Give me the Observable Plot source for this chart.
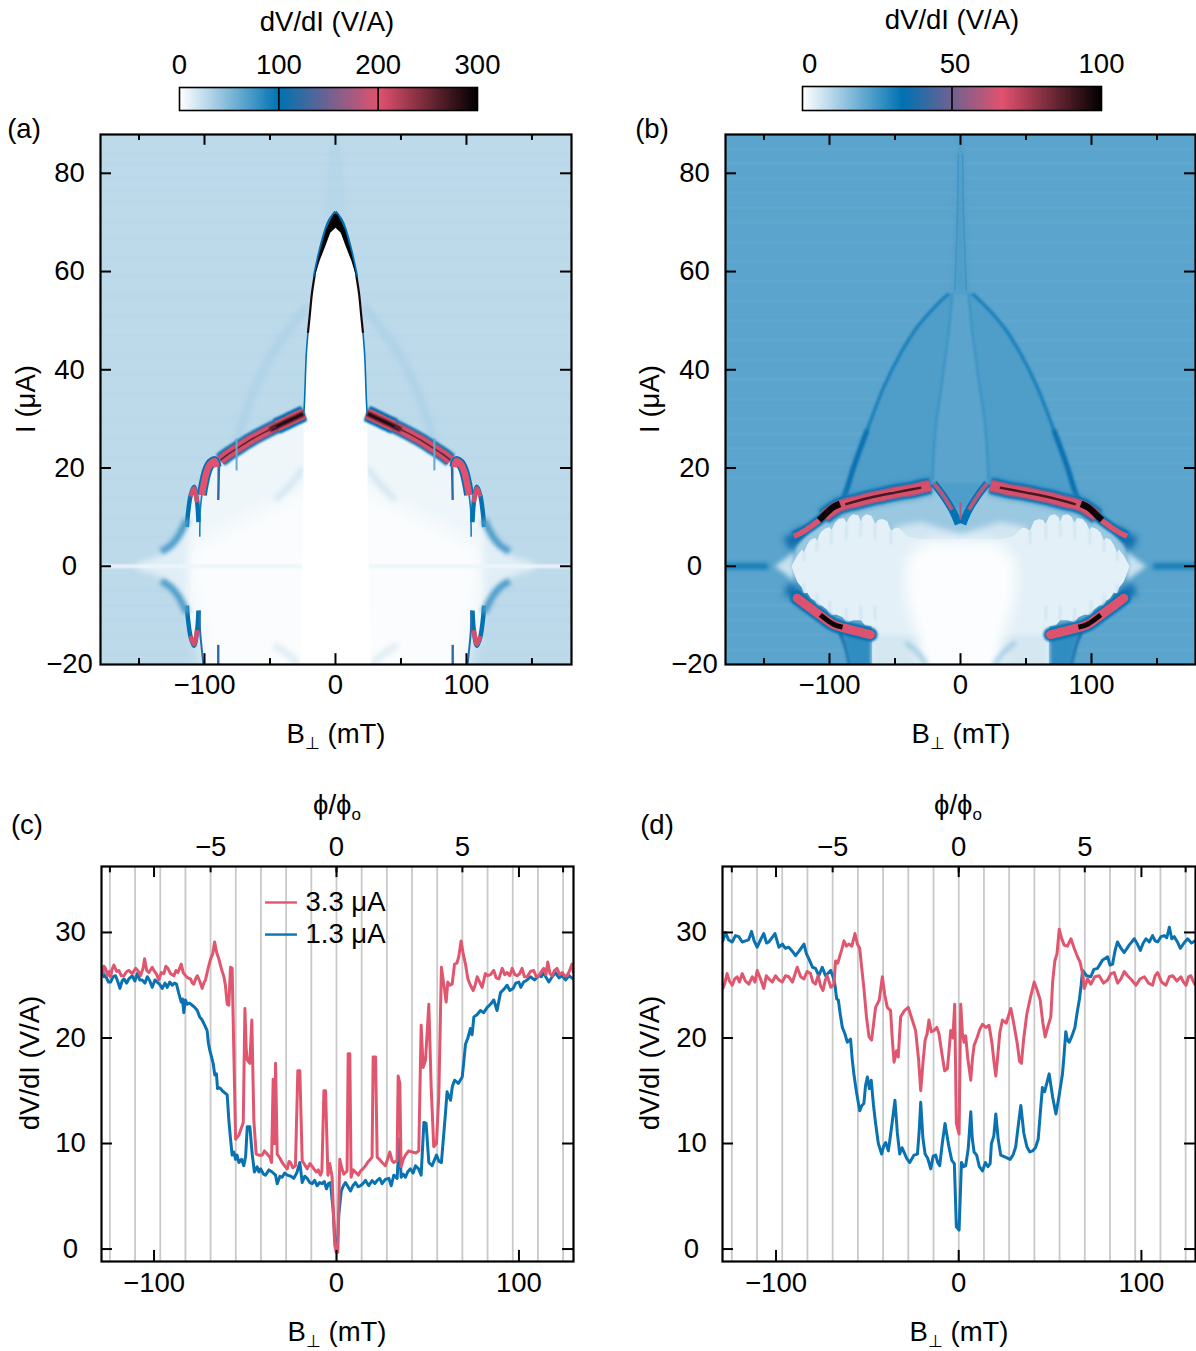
<!DOCTYPE html>
<html><head><meta charset="utf-8">
<script src="https://cdn.jsdelivr.net/npm/d3@7"></script>
<script src="https://cdn.jsdelivr.net/npm/@observablehq/plot@0.6"></script>
<style>
html,body{margin:0;padding:0;background:#fff}
#page{position:relative;width:1196px;height:1351px;overflow:hidden;font-family:"Liberation Sans",Arial,sans-serif;font-size:27.5px;color:#000}
.lab{position:absolute;white-space:nowrap;line-height:1}
.s{font-size:17px;position:relative;top:6px}
.panel{position:absolute}
.panel svg{overflow:visible;max-width:none;background:transparent}
</style></head><body><div id="page"></div>
<script>
// ---------- colour map stops (dV/dI in V/A) ----------
const mapColours = ["#ffffff", "#0072b2", "#e1526f", "#000000"];
const aStops = [0, 100, 200, 300];
const bStops = [0, 33.3, 66.7, 100];
const lineRed = "#e1566f", lineBlue = "#0a72b0";

// ---------- ticks ----------
const currentTicks = [-20, 0, 20, 40, 60, 80];
const fieldMajor = [-100, 0, 100];
const fieldMinor = [-150, -50, 50, 150];
const dvdiTicks = [0, 10, 20, 30];
const fluxLines = [-9,-8,-7,-6,-5,-4,-3,-2,-1,0,1,2,3,4,5,6,7,8,9];
const fluxTicks = [-5, 0, 5];
const mTperFlux = 13.8;

const aBands = [84,82,79,76.5,74,70,67,63,59,55,51,47,43,39,35,30,26,22,18,14,10,6,-5,-8,-11,-14,-18];
const aOutline = [[0,30.5],[24,30.5],[37,28.9],[55,26.6],[75,23.2],[87.5,21],[89.5,15],[91,21],[96,20.5],[100,18],[102.8,12],[104.5,12.5],[108,15.5],[111.5,14],[113.5,10.5],[116,7],[120,4.5],[125,3],[132,1],[140,.3],[140,-.3],[132,-1],[125,-3],[120,-5.5],[116,-8],[113.5,-11],[111,-14.5],[108,-15.5],[105,-13],[103.5,-11],[102.5,-15],[100,-22],[0,-22]];
const aCore = [[0,18],[24,16],[60,11],[90,7],[104,5],[112,4],[115,0],[112,-5],[104,-11],[98,-22],[0,-22]];
const aFade = [[113,8],[125,5],[135,2],[152,.6],[152,-.6],[135,-2],[125,-5],[113,-8]];
const aDome = [[0,69.2],[4,68.4],[7.4,66.5],[12,63],[16.2,58.9],[19.5,52],[22,44.7],[23.6,33.8],[24.3,28],[24.5,15],[25,5],[26,-10],[27,-22],[0,-22]];
const aCap = [[0,71.8],[1.5,71.6],[4.5,70.2],[7.4,68.4],[12,64],[16.2,59],[15.4,59.4],[12,62.3],[8,65],[4,67.9],[0,68.9]];
const aCapGlow = [[0,72.2],[4.5,70.6],[7.4,68.8],[12,64.4],[16.4,59]];
const aDomeMid = [[15.8,59.4],[18,55.5],[19.5,51.5],[21,47.5]];
const aDomeLow = [[21,47.5],[22.3,43],[23.6,33.8],[24.2,31]];
const aFaintArc = [[76,25],[70,30],[62,36],[45,44.7],[30,50],[22,53]];
const aAbovePeak = [[-9,70],[-6,80],[-3,88],[3,88],[6,80],[9,70],[3,72],[-3,72]];
const aInnerArc = [[25,20],[33,17],[46,13.5]];
const aLowerArc = [[28,-20],[36,-18],[47,-16]];
const aRidge1 = [[24.2,31.1],[30,30.4],[36.9,29.5],[45,28.5],[54.7,27.2],[65,25.7],[75,24],[82,22.8],[87.8,21.6]];
const aRidgeNear = [[24.2,31.1],[30,30.4],[36.9,29.5],[45,28.5]];
const aRidgeDark = [[24.2,31.1],[36.9,29.5],[50,27.8]];
const aSlit75 = [[75.5,26],[75.5,19.5]];
const aSlit89 = [[88.9,21.6],[89.5,13.5]];
const aSlit89Low = [[89.5,-16],[89.5,-22]];
const aRidge2 = [[90.8,20.2],[92.3,21.4],[95,21],[98,19.5],[100.5,16.8],[102,14.5]];
const aRidge2Low = [[102,14.5],[103.2,11.5],[103.6,6]];
const aLobe = [[104.6,9],[105.6,13],[108,16.2],[110.5,14.5],[112.5,11],[113.5,8]];
const aLobeTop = [[105.6,13],[108,15.9],[110.5,14.2]];
const aTail = [[113.5,9.5],[117,7.5],[121,5.7],[126,4.2],[133,3]];
const aLine104Low = [[103.6,-9],[103.4,-13],[102.4,-16],[100,-22]];

const bBands = [85,82,79,76,73,70,66,62,58,54,50,46,42,38,34,30,27,24,21,18,-5,-8,-11,-14,-17];
const bTent = [[0,56],[9,55.5],[15.3,54.2],[33,48.7],[45.8,43.3],[58.5,36.5],[71.2,27.8],[81.4,20.3],[87.8,14.9],[90,12],[0,12]];
const bTentEdge = [[9,55.5],[15.3,54],[33,48.7],[45.8,43.3],[58.5,36.5],[71.2,27.8],[81.4,20.3],[87.8,14.9],[92,12.3]];
const bTentEdgeLow = [[71.2,27.8],[81.4,20.3],[87.8,14.9],[92,12.3]];
const bCentre = [[22,17],[19,28.4],[14,37.9],[6.4,55.5],[0,55.5]];
const bCentreEdge = [[21.6,17.6],[19,28.4],[14,37.9],[9,48],[6.4,55.5]];
const bSpike = [[5.5,56],[3,72],[1.2,88],[-1.2,88],[-3,72],[-5.5,56]];
const bSpikeEdge = [[4.5,56],[2.5,70],[1.6,84]];
const bBand = [[0,8.5],[6,11],[13,14],[21,16],[38,15],[58.5,14],[79,12.5],[93,11.5],[104,9.5],[116,7],[125,4],[129,0],[100,0],[60,4],[0,4]];
const bMidFade = [[0,6.5],[30,9],[50,8],[50,4],[0,3]];
const bOutline = [[0,5.5],[30,5.5],[40,6],[47,7.8],[50,7.8],[53,7.2],[56,9.2],[60,9.6],[63,9.4],[65,8.6],[68,10.3],[72,10.6],[75,10],[76,9],[78,10.4],[82,10.6],[85,10],[87,8.8],[89,9.8],[93,9.6],[96,8.8],[98.5,7.4],[100,8],[104,7.6],[107,6.8],[109.5,5.2],[111,5.8],[114.5,5.4],[117,4.4],[119.5,2.8],[121,3.4],[124.5,2.2],[127,1],[129,0],[127,-1.5],[124.5,-3.2],[121,-4.4],[119.5,-5.5],[117,-5.4],[114,-6.6],[111,-7],[109.5,-8],[106,-8],[102,-8.8],[99.5,-10],[95,-9.8],[90,-10.4],[87,-11.5],[82,-11],[76,-11],[73,-12],[68,-12.2],[67.4,-14],[67.4,-22],[0,-22]];
const bHalo = [[127,3],[134,1.5],[142,0],[134,-1.5],[127,-3]];
const bWhite = [[0,5],[24,5],[32,4],[42,1],[42,-6],[33,-14],[27,-22],[0,-22]];
const bLowFill = [[67.4,-14],[67.4,-22],[26,-22],[30,-14]];
const bLowArc = [[26,-20],[33,-17.5],[42,-15.5]];
const bLowDark = [[68,-14],[90,-13],[83,-22],[68,-22]];
const bLobeNotches = [[53,7.2,53.3,4.5],[65,8.6,65.3,5.5],[76,9,76.3,6],[87,8.8,87.3,5.5],[98.5,7.4,98.8,4.5],[109.5,5.2,109.8,3],[119.5,2.8,119.8,1],[65,-11,65.3,-8],[76,-11,76.3,-8],[87,-11.5,87.3,-8.5],[99.5,-10,99.8,-7],[109.5,-8,109.8,-5.5],[119.5,-5.5,119.8,-3.5]];
const bRidge = [[23,16.4],[30,16],[38.2,15.5],[48,15.1],[58.5,14.5],[69,13.9],[78.9,13.2],[86,12.8],[92.9,12.2],[99,11.2],[104.3,10.1]];
const bRidgeTip = [[104.3,10.1],[110,8.9],[115.8,7.8],[121,6.9],[127.2,6.1]];
const bRidgeHot = [[92,12.7],[98,11.9],[104,10.4],[108,9.4]];
const bRidgeDark = [[30,16],[50,15],[70,13.9],[88,12.6]];
const bVee = [[20.4,16.9],[12.7,14.2],[6.4,11.5],[1.6,8.6]];
const bSlit = [[0,13],[0,9.5]];
const bTipGlow = [[118,7],[126,5.5],[133,4.5]];
const bZeroDark = [[147,0],[180,0]];
const bLowRidge = [[68.7,-13.9],[84,-12.9],[96.7,-11.9],[105,-10.4],[113.2,-8.8],[124.7,-6.5]];
const bLowHot = [[90,-12.4],[97,-11.8],[107,-9.9]];
const bLowTail = [[92.9,-13],[88,-16],[82.7,-22]];

// ---------- panel (c): traces, [B mT, dV/dI V/A] ----------
const cRed = [[-128.8,26.3],[-128.4,26.1],[-127.5,26.8],[-126.6,26.6],[-125.5,25.9],[-124.6,26.3],[-123.8,25.8],[-123,26.5],[-122,26.9],[-120.5,26.3],[-119.3,26.4],[-118,25.9],[-116.5,25.9],[-115,26.3],[-113.8,26.4],[-112,26.1],[-110.1,26.6],[-108.5,26.3],[-107.4,25.9],[-106,26.6],[-105.2,27.5],[-104,26.4],[-102.8,26.2],[-101,26.7],[-100.1,26.4],[-98.5,26],[-97.4,25.5],[-96,26.2],[-94.6,26.1],[-93.5,26.8],[-92.4,26.6],[-91,26.1],[-89.1,25.9],[-88,26.4],[-86.9,26.2],[-86,26.6],[-85.1,27],[-84,26.2],[-82.7,25.9],[-81.5,25.7],[-80,25.6],[-79,25.2],[-78.2,25.1],[-77,25.7],[-76.3,25.9],[-75,25.4],[-73.6,24.7],[-72.5,25.3],[-71.8,25.5],[-70.5,26.5],[-69,27.5],[-67.8,28],[-66.8,29.1],[-65.7,28.1],[-64.5,27.5],[-63,26.5],[-61.7,25.8],[-60.9,25],[-59.9,23.2],[-59,23.1],[-58.1,26.7],[-57.2,26.6],[-55.3,10.4],[-53.5,10.8],[-51.1,12],[-50.2,22.8],[-49.5,19],[-48.9,17.9],[-47.5,17.6],[-46.4,21.7],[-45.3,12.2],[-44,9],[-42.5,8.9],[-40.7,8.9],[-39.5,9.3],[-38,9],[-36.5,8.7],[-35.6,8.2],[-34.7,16.1],[-34,10],[-33.4,17.6],[-32.5,9],[-31,8.6],[-29.8,8.2],[-28.5,7.9],[-27,7.6],[-26,8.3],[-25.2,8.2],[-24,7.7],[-22.5,7.9],[-21.2,16.9],[-20.1,16.9],[-18.8,8.4],[-17.5,8],[-16.1,7.6],[-14.5,8.1],[-12.4,7.6],[-11,7.3],[-10,7.5],[-8.8,7],[-8,7.4],[-6.9,15],[-6,15],[-4.7,7],[-3.7,8.1],[-2.4,6.8],[-1.1,.8],[-.2,-.3],[.7,-.3],[1.8,8.5],[3,7.6],[4,7.1],[5.8,7.4],[6.4,18.5],[7.3,18.5],[8,6.8],[9.2,7.5],[10.4,7.3],[12,7],[13.2,7.4],[14.5,7.6],[15.9,7.9],[17.5,8.3],[19.5,8.7],[20.1,18.2],[21.4,18.2],[22.3,8.7],[23.5,8.5],[25,8.2],[26.8,7.9],[28,8.5],[29.2,9.2],[30.4,8.4],[31.4,8.2],[33.2,8.4],[33.8,16.4],[34.7,15.7],[35.4,7.8],[36.6,8.5],[37.8,8.9],[39.5,9.3],[41.5,9.2],[43.5,9.1],[45.1,9.3],[46.4,21.2],[47.5,17.2],[48.8,17.9],[50.6,23.2],[51.9,15.3],[53.3,9.7],[54.8,10],[56.1,14.7],[57.5,26.7],[58.8,25.1],[60.1,23.4],[61,25.3],[62.2,25],[63.4,25.1],[64.7,27],[66,27.1],[67,27.7],[68.3,29.2],[69.5,27.9],[70.7,27],[72,25.6],[73.4,25],[74.9,24.5],[76,25],[77.1,25.8],[78.5,25.3],[79.8,24.8],[81.6,26.1],[83,25.9],[84.4,26],[86.2,26.4],[87.5,25.7],[89,25.6],[90.8,26.6],[92.2,26],[93.5,26.2],[95,25.9],[96.3,26.6],[97.7,26],[99,25.9],[100.4,26.1],[101.7,26.6],[103,25.8],[104.5,25.8],[106.3,26.3],[108.1,26.4],[109.5,25.8],[110.9,25.9],[112.3,26.3],[113.6,26.6],[114.8,26],[115.8,27.2],[117,26.1],[118.2,25.9],[119.5,26.4],[120.9,26.6],[122.3,26],[123.7,26.2],[125,25.9],[126.4,25.9],[127.8,26.4],[129.1,27],[129.9,26.2]];
const cBlue = [[-128.8,26.4],[-128.4,26.7],[-127.5,25.8],[-126.6,25.9],[-125,25.3],[-123.8,25.3],[-122.5,25.8],[-121.1,25.9],[-119.8,25.3],[-118.7,24.7],[-117.5,25.4],[-116.5,25.6],[-115,25.2],[-113.8,25.6],[-112,25.9],[-110.5,25.4],[-109.2,26.1],[-107.8,25.5],[-106.5,25.5],[-105,25.2],[-103.7,25.8],[-102.3,25.4],[-101,24.8],[-99.5,25.5],[-98.3,25.3],[-97,25.1],[-95.5,24.7],[-94,25.2],[-92.8,24.8],[-91.4,25.3],[-90,25],[-88.8,25.2],[-87.7,25.1],[-86.4,24.2],[-85.1,23.4],[-84.4,23.7],[-83.7,22.4],[-82.8,23.6],[-81.8,23.2],[-80.5,23.3],[-79.1,23.1],[-77.7,22.9],[-76.3,22.6],[-75,22],[-73.6,21.7],[-72.2,21.2],[-70.9,20.7],[-70.2,19.5],[-69.4,18.8],[-68.5,18.2],[-67.6,17.6],[-66.7,16.5],[-65.8,16.6],[-65.2,15.2],[-64.5,15.3],[-63.5,15.2],[-62.6,15],[-61.2,14.8],[-59.9,14.6],[-59,12.2],[-58,10.3],[-57.2,8.9],[-56.3,9.2],[-55.3,8.5],[-54.5,8.9],[-53.5,8.2],[-52,8.5],[-50.8,7.9],[-49.8,8.8],[-48.9,11.6],[-47.5,11.6],[-46.2,9],[-45,7.3],[-43.5,7.8],[-42.5,7.3],[-41.6,7.6],[-40,7.1],[-38.9,7],[-37,7.5],[-35.3,7.3],[-33.4,7],[-32.5,6.2],[-31,6.9],[-29.8,6.8],[-28.4,7.2],[-27,7],[-25,6.9],[-23.4,6.7],[-21.8,7.2],[-20.1,8.2],[-18.8,6.3],[-17.4,6.9],[-16.1,6.7],[-14.7,6.3],[-13.3,6.2],[-12,6.5],[-10.6,6],[-9.2,6.3],[-7.9,6.2],[-6.7,6.4],[-5.5,5.7],[-4.4,6.2],[-3.3,6.3],[-1.8,3.6],[-.7,.2],[.4,-.3],[1.3,3.3],[2.6,5.5],[3.8,6],[4.9,6.3],[6.3,5.9],[7.7,5.5],[9,6],[10.4,6.3],[11.8,5.9],[13.2,6],[14.5,6.2],[15.9,6.5],[17.7,6],[19.5,6.5],[21,6.2],[22.3,6.5],[23.7,6.7],[25,6.2],[26.8,6.6],[28.7,6.7],[30,6],[31.4,7],[33.2,6.7],[34.5,10.4],[35.4,6.8],[36.6,7.1],[37.8,6.8],[39,7.3],[40.5,7.6],[42,7.2],[43.3,7.9],[45,7.6],[46.4,7],[47.9,12],[49.1,11.9],[50.6,8.2],[52.4,7.9],[53.6,8.4],[54.8,8.9],[56.2,8.3],[57.5,8.2],[58.6,10.5],[59.7,12.8],[60.6,14.9],[61.5,14.5],[62.5,14.1],[63.5,15.4],[64.7,16],[66.8,15.7],[68.9,16.3],[69.8,17.8],[70.7,19.4],[72,20],[73.4,20.9],[74.3,20.3],[75.3,22],[77,22.2],[78.9,22.6],[80.7,22.4],[82.6,22.9],[84.4,23.2],[86.2,23.6],[88,22.6],[89.9,24.3],[91.7,24.6],[93.5,25],[95,24.5],[96.8,24.7],[98.3,25.2],[99.9,25.3],[101,24.8],[102.6,25.3],[104.5,25.5],[106.3,25.8],[108.5,25.5],[110.9,25.9],[112.3,25.8],[113.6,26.2],[115,25.7],[116.4,25.3],[118.2,25.8],[120,26.2],[122,25.7],[123.7,25.9],[125.5,25.5],[127.4,25.9],[129.7,25.6]];

// ---------- panel (d): traces ----------
const dRed = [[-129.1,24.7],[-128,25.2],[-126.8,26.1],[-125.5,25.4],[-124,25],[-122.6,25.6],[-121.3,25.8],[-120,25.3],[-118.5,26.1],[-116.8,25.4],[-114.9,25.1],[-113,25.8],[-111.5,25.3],[-110.3,26.4],[-108.5,25.6],[-106.7,24.7],[-105.3,25.9],[-103.9,25.6],[-102,25.3],[-100.3,25.9],[-98.4,25.5],[-96.6,25.3],[-94.8,25.9],[-93,25.8],[-91,25.3],[-88.4,26.7],[-86.5,25.8],[-84.7,25.6],[-83,26.3],[-81.1,26.1],[-79.8,25.3],[-78.4,25.1],[-77,25.9],[-75.5,24.9],[-74.3,24.5],[-73,25.5],[-72,25.9],[-70,24.8],[-68.3,25.1],[-67.4,27.3],[-66.2,27.1],[-65.2,27.7],[-64,28.4],[-62.8,29.2],[-61.5,28.7],[-60.1,28.9],[-58.5,28.7],[-56.8,29.9],[-55.5,28.9],[-54.2,28.5],[-53,26.5],[-51.9,24.7],[-50.5,22],[-49.1,20.1],[-47.7,19.8],[-46.5,21.5],[-45.5,22.9],[-43.5,23.6],[-41.8,25.8],[-40.5,24.1],[-39.1,22.9],[-37.3,22.6],[-36.4,20],[-35.4,17.7],[-34,18.8],[-33.1,18.2],[-31.8,22],[-29.7,22.6],[-27.6,22.9],[-25.6,21.8],[-23.6,20.7],[-22,18],[-20.8,15],[-19.5,17.8],[-18.4,19.8],[-17.3,20.4],[-16.3,21.7],[-15,20.6],[-13.5,20.7],[-12,21],[-10.8,20.4],[-9.2,18.5],[-7.7,16.9],[-6.2,17.1],[-5.2,19],[-4.4,20.7],[-3.2,20],[-2.2,23.2],[-1.3,11.9],[.2,10.9],[1.1,23.2],[2,20.5],[2.9,19.6],[3.8,20.2],[5,18],[6.6,16],[7.5,18],[8.4,19.3],[10,20],[11.5,20.8],[13,21.3],[14.8,21],[16.6,21.2],[18.2,19.5],[19.4,17.6],[20.3,16.4],[21.2,18],[22.5,20.5],[23.9,21.7],[26,21.4],[28.5,22.8],[30,21.5],[32,19.5],[33.3,17.8],[34.3,17.6],[35.6,20],[37.3,22.3],[39.2,23.8],[41.3,25.3],[42.8,24.6],[44.6,23.6],[46,21.5],[47.3,20.1],[49,21.2],[50.4,22],[51.4,25.3],[52.6,27.3],[53.8,28],[55,30.3],[56.2,29.5],[57.7,28.8],[59.5,28.7],[61.4,29.4],[63.2,28.5],[65,27.7],[66.4,27.2],[67.8,26.1],[68.7,24.7],[70.5,25.6],[72.3,25.1],[74.5,25.8],[76.9,25.9],[79.2,25.2],[81.5,25.5],[83.3,26.1],[85.1,26.2],[87,25.2],[88.8,25.6],[90.6,26.3],[92.4,25.9],[94.7,25.5],[97,25],[99.3,25.6],[101.6,25.8],[103.9,25.2],[106.1,25],[107.5,25.9],[108.9,26.2],[111,25.3],[113.4,25],[115.3,25.8],[117.1,25.9],[119.4,25.4],[121.6,25.8],[123,25.3],[124.4,25],[125.8,25.8],[127.1,25.9],[128.5,25.3],[129.6,25]];
const dBlue = [[-129.1,29.2],[-127.7,30],[-126,29.3],[-124,29.1],[-122.2,29.7],[-120.4,29.6],[-118.5,29.1],[-116.7,29.2],[-115,29.3],[-113.4,30.1],[-112,29.2],[-110.3,28.6],[-108.5,29.3],[-106.7,29.9],[-105.2,29],[-103.9,29.1],[-102.2,29.5],[-100.6,29.9],[-98.4,28.6],[-96.5,28.9],[-95,28.5],[-93,28.6],[-91,28.2],[-89.3,27.8],[-87.5,28.2],[-84.7,28.9],[-83.4,28],[-82,27.5],[-80,26.7],[-78.4,26.6],[-76.6,25.9],[-74.7,26.7],[-72.9,25.9],[-70.1,26.4],[-68.8,25.8],[-67.8,25.1],[-66.8,23.7],[-65.9,23.6],[-64.8,22.2],[-63.7,21],[-62.3,20.4],[-61,19.6],[-59.2,19.9],[-58.3,18],[-57.4,16.6],[-56,14.9],[-54.2,13.1],[-53,13.6],[-51.9,13.8],[-51,15.5],[-50,16.3],[-48.9,15.2],[-47.9,16],[-46.7,13.7],[-45.5,11.9],[-44,10],[-42.2,9],[-41,9.8],[-40,10.1],[-38.5,9.3],[-36.8,11.5],[-34.9,14.1],[-33.6,11],[-32.3,9],[-31,9.6],[-30,9.2],[-28.5,8.6],[-26.8,8.2],[-24.5,8.9],[-22.6,9],[-21.7,11],[-20.8,13.9],[-19.6,10.5],[-18.4,9],[-17,8.6],[-15.3,7.6],[-14,8.8],[-12.6,8.9],[-11.5,8.2],[-10.4,7.9],[-9,10],[-7.5,11.9],[-5.5,9.8],[-3.8,8.4],[-2.4,8.1],[-1.3,2.1],[.2,1.8],[1.5,8.2],[2.7,7.8],[3.8,7.9],[5.2,9.5],[6.6,13],[7.4,10.5],[8.4,9.2],[9.8,8.9],[11.3,7.8],[13,7.4],[14.6,8.2],[16,7.8],[17.2,8.1],[17.9,10],[19.2,10.7],[20.3,12.8],[21.6,10.4],[23,8.9],[25.5,8.7],[28.1,8.5],[29.7,8.9],[31.2,9.7],[32.8,12],[34,13.6],[35.6,11],[37.3,9.7],[38.9,9.2],[40.4,9.3],[42,9.6],[43.5,10.4],[44.7,13],[45.8,15.3],[47,14.9],[49.5,16.6],[51.4,14.4],[53.2,12.8],[55,14.6],[56.8,16.6],[57.7,18.5],[58.6,20.6],[59.5,19.8],[60.5,19.6],[62,20.2],[63.6,21],[64.8,22.4],[66,23.6],[67,25],[67.8,26.4],[70,25.9],[72.3,25.8],[74,26.5],[76,26.6],[78.8,27.4],[81.5,27.7],[82.8,26.9],[84.2,27],[85.6,28.3],[86.9,29.1],[88.8,28.5],[90.6,28.1],[93.3,28.8],[96.1,29.4],[97.8,28.9],[99.4,28.3],[101,29],[102.5,29.4],[104.3,29.1],[106.1,29.7],[107.5,29.2],[108.9,29.1],[110.7,29.6],[112.5,29.7],[113.9,29.5],[115.3,30.5],[116.6,29.4],[118,29.6],[119.7,29.1],[121.3,28.5],[123.3,29],[125.3,29.4],[127.4,29],[129.5,29.2]];

// ---------- helpers ----------
const page = document.getElementById("page");
const minusFmt = d => String(d).replace("-", "\u2212");
const px = d => d[0], py = d => d[1];
const mir = pts => pts.map(([x, y]) => [-x, y]);
const flip = pts => pts.map(([x, y]) => [x, -y]);
const sym = pts => pts.concat(mir(pts).reverse());
const filt = b => b ? {imageFilter: `blur(${b}px)`} : {};
const area = (pts, v, blur = 0, opacity = 1, curve = "linear") =>
  Plot.line(pts, {x: px, y: py, fill: () => v, stroke: "none", clip: true, fillOpacity: opacity, curve, ...filt(blur)});
const path = (pts, v, w, blur = 0, opacity = 1, cap = "butt") =>
  Plot.line(pts, {x: px, y: py, stroke: () => v, strokeWidth: w, clip: true, strokeOpacity: opacity,
    curve: "catmull-rom", strokeLinecap: cap, strokeLinejoin: "round", ...filt(blur)});
const both = (pts, ...a) => [path(pts, ...a), path(mir(pts), ...a)];
const quad = (pts, ...a) => [...both(pts, ...a), ...both(flip(pts), ...a)];
const yTickText = (ticks) => Plot.text(ticks, {frameAnchor: "left", y: d => d, dx: -31, text: minusFmt, textAnchor: "middle", fontSize: 27.5});
const ticksOf = (xDom, yDom, xMaj, xMin, yT, lenX, lenY) => [
  Plot.ruleX(xMaj, {y1: yDom[0], y2: yDom[0] + lenY, stroke: "#000", strokeWidth: 2}),
  Plot.ruleX(xMaj, {y1: yDom[1], y2: yDom[1] - lenY, stroke: "#000", strokeWidth: 2}),
  Plot.ruleX(xMin, {y1: yDom[0], y2: yDom[0] + lenY * .55, stroke: "#000", strokeWidth: 2}),
  Plot.ruleX(xMin, {y1: yDom[1], y2: yDom[1] - lenY * .55, stroke: "#000", strokeWidth: 2}),
  Plot.ruleY(yT, {x1: xDom[0], x2: xDom[0] + lenX, stroke: "#000", strokeWidth: 2}),
  Plot.ruleY(yT, {x1: xDom[1], x2: xDom[1] - lenX, stroke: "#000", strokeWidth: 2})
];
function place(svg, left, top) {
  const d = document.createElement("div");
  d.className = "panel"; d.style.left = left + "px"; d.style.top = top + "px";
  d.appendChild(svg); page.appendChild(d);
}
function label(html, cx, cy, rot) {
  const d = document.createElement("div");
  d.className = "lab"; d.innerHTML = html;
  d.style.left = cx + "px"; d.style.top = cy + "px";
  d.style.transform = `translate(-50%,-50%)` + (rot ? ` rotate(${rot}deg)` : "");
  page.appendChild(d);
}
const svgStyle = {fontFamily: '"Liberation Sans",Arial,sans-serif', fontSize: "27.5px", overflow: "visible", background: "transparent"};

// ---------- colour bars ----------
const aBarLabels = ["0", "100", "200", "300"], bBarLabels = ["0", "50", "100"];
function colourbar(stops, max, tickPos, labels, tickMarks, left, top, w, h) {
  const steps = d3.range(0, max, max / 200);
  const svg = Plot.plot({
    width: w, height: h + 50, marginLeft: 0, marginRight: 0, marginTop: 50, marginBottom: 0,
    style: svgStyle,
    x: {domain: [0, max], axis: null}, y: {domain: [0, 1], axis: null},
    color: {type: "linear", domain: stops, range: mapColours},
    marks: [
      Plot.rect(steps, {x1: d => d, x2: d => Math.min(d + max / 90, max), y1: 0, y2: 1, fill: d => d, inset: 0}),
      Plot.ruleX(tickMarks, {stroke: "#000", strokeWidth: 1.6}),
      Plot.frame({stroke: "#000", strokeWidth: 1.6}),
      Plot.text(tickPos, {x: d => d, y: 1, dy: -22, text: (d, i) => labels[i], fontSize: 27.5, textAnchor: "middle"})
    ]
  });
  place(svg, left, top - 50);
}
colourbar(aStops, 300, [0, 100, 200, 300], aBarLabels, [100, 200], 179, 87, 298, 23);
colourbar(bStops, 100, [2.4, 51, 100], bBarLabels, [50], 802, 86, 299, 24);

// ---------- maps ----------
const mapDomainY = [-20, 87.9];
function mapPlot(marks, stops, domX, left, top, width, mL, mR) {
  const h = 530, mT = 24, mB = 46;
  const svg = Plot.plot({
    width, height: h + mT + mB, marginLeft: mL, marginRight: mR, marginTop: mT, marginBottom: mB,
    style: svgStyle,
    x: {domain: domX, axis: null}, y: {domain: mapDomainY, axis: null},
    color: {type: "linear", domain: stops, range: mapColours, clamp: true},
    marks: [
      ...marks,
      ...ticksOf(domX, mapDomainY, fieldMajor, fieldMinor, currentTicks.slice(1), 8.4, 2.2),
      Plot.frame({stroke: "#000", strokeWidth: 2.2}),
      Plot.axisX({anchor: "bottom", ticks: fieldMajor, tickSize: 0, tickPadding: 10, tickFormat: minusFmt, fontSize: 27.5, label: null}),
      yTickText(currentTicks)
    ]
  });
  place(svg, left, top);
}
const fullRect = (v, domX) => Plot.rect([0], {x1: domX[0], x2: domX[1], y1: mapDomainY[0], y2: mapDomainY[1], fill: () => v});
const bands = (list, v, w, op) => Plot.ruleY(list, {stroke: () => v, strokeWidth: w, strokeOpacity: op, imageFilter: "blur(1px)", clip: true});

const aX = [-179.4, 180.2];
const aMarks = [
  fullRect(26, aX),
  bands(aBands, 31, 3, .25),
  area(aAbovePeak, 31, 2, .5),
  ...both(aFaintArc, 34, 9, 2.5, .6),
  area(sym(aOutline), 6.5),
  area(sym(aCore), 2, 9),
  area(aFade, 12, 3), area(mir(aFade), 12, 3),
  path([[-180, 0], [180, 0]], 7, 3.5, 1.2),
  ...both(aInnerArc, 26, 6, 2.5, .55),
  ...both(aLowerArc, 26, 6, 2.5, .45),
  area(aDome.concat(mir(aDome).reverse()), 0),
  // ridge
  ...both(aRidge1, 100, 14.5, .9),
  ...both(aRidge1, 145, 11.5, .6),
  ...both(aRidge1, 205, 8.5, .4),
  ...both(aRidgeNear, 100, 16, .9),
  ...both(aRidgeNear, 205, 11, .6),
  ...both(aRidgeDark, 290, 4.5, .8),
  ...both(aRidge1.slice(3), 255, 1.6, .6),
  ...both(aSlit75, 60, 2, .3),
  ...both(aSlit89, 120, 2.4, .2),
  ...both(aSlit89Low, 120, 2.4, .2),
  ...both(aRidge2, 100, 10, .7),
  ...both(aRidge2, 200, 6.5, .4),
  ...both(aRidge2Low, 90, 1.6, .3),
  ...quad(aLobe, 100, 4.5, .5),
  ...quad(aLobeTop, 205, 4.5, .4),
  ...quad(aTail, 70, 7, 2),
  ...both(aLine104Low, 120, 2, .2),
  // dome edge
  ...both(aDomeLow, 100, 1.6, .2),
  ...both(aDomeMid, 290, 2.2, .2),
  ...both(aCapGlow, 100, 2.5, .6),
  area(sym(aCap), 300, .4)
];
mapPlot(aMarks, aStops, aX, 0, 110, 600, 100, 29);

const bX = [-179.4, 179.4];
const bMarks = [
  fullRect(21.5, bX),
  bands(bBands, 18, 3, .3),
  area(sym(bTent), 23),
  area(bSpike, 23, 2),
  area(sym(bCentre), 21.5, 1.5),
  ...both(bCentreEdge, 26, 2, 1),
  ...both(bSpikeEdge, 25, 1.5, .6),
  ...both(bTentEdge, 30, 3.2, 1),
  ...both(bTentEdgeLow, 35, 4.5, 1.5),
  ...both(bZeroDark, 31, 6, 2),
  ...both(bTipGlow, 36, 14, 3),
  ...both(flip(bTipGlow), 36, 12, 3),
  ...both(bLowTail, 38, 4, 1),
  area(bLowDark, 27, 2), area(mir(bLowDark), 27, 2),
  area(bHalo, 7, 2.5), area(mir(bHalo), 7, 2.5),
  area(sym(bBand), 13, 1.5),
  ...both(bRidge, 28, 16, 3),
  area(sym(bMidFade), 6, 3),
  area(sym(bOutline), 3.6, .6),
  ...bLobeNotches.flatMap(([a, b, c, d]) => both([[a, b], [c, d]], 8, 1.4, .8)),
  area(bLowFill, 5.5, 2), area(mir(bLowFill), 5.5, 2),
  area(sym(bWhite), .4, 7),
  ...both(bLowArc, 13, 5, 2, .8),
  // hot ridges
  ...both(bVee, 33, 7.5, .7),
  ...both(bVee.slice(0, 3), 60, 4, .4),
  path(bSlit, 60, 2, .2),
  ...both(bRidge, 33, 16, 1),
  ...both(bRidge, 50, 13, .7),
  ...both(bRidge, 68, 10, .5),
  ...both(bRidgeDark, 90, 2.4, .6),
  ...both(bRidgeTip, 33, 10, .8),
  ...both(bRidgeTip, 66, 5.5, .5),
  ...both(bRidgeHot, 98, 6.5, .7),
  ...both(bLowRidge, 33, 14, 1, 1, "round"),
  ...both(bLowRidge, 66, 9, .5, 1, "round"),
  ...both(bLowHot, 98, 5, .7),
];
mapPlot(bMarks, bStops, bX, 620, 110, 576, 105, 1);

// ---------- line panels ----------
const lineY = [-1.18, 36.25];
function tracePlot(red, blue, domX, left, width, mL, mR, legend) {
  const fluxX = fluxLines.map(d => d * mTperFlux);
  const svg = Plot.plot({
    width, height: 395 + 40 + 50, marginLeft: mL, marginRight: mR, marginTop: 40, marginBottom: 50,
    style: svgStyle,
    x: {domain: domX, axis: null}, y: {domain: lineY, axis: null},
    marks: [
      Plot.ruleX(fluxX, {stroke: "#c9c9c9", strokeWidth: 1.8}),
      Plot.line(blue, {x: px, y: py, stroke: lineBlue, strokeWidth: 3, clip: true, strokeLinejoin: "round"}),
      Plot.line(red, {x: px, y: py, stroke: lineRed, strokeWidth: 3, clip: true, strokeLinejoin: "round"}),
      ...(legend ? [
        Plot.ruleY([32.84], {x1: -38.9, x2: -21.4, stroke: lineRed, strokeWidth: 2.4}),
        Plot.ruleY([29.8], {x1: -38.9, x2: -21.4, stroke: lineBlue, strokeWidth: 2.4}),
        Plot.text(["3.3 μA"], {x: -17, y: 32.84, text: d => d, textAnchor: "start", fontSize: 27.5}),
        Plot.text(["1.3 μA"], {x: -17, y: 29.8, text: d => d, textAnchor: "start", fontSize: 27.5})
      ] : []),
      ...ticksOf(domX, lineY, fieldMajor, [], dvdiTicks, 6, 1.05),
      Plot.ruleX(fluxTicks.concat([-9, 9]).map(d => d * mTperFlux), {y1: lineY[1], y2: lineY[1] - .6, stroke: "#000", strokeWidth: 2}),
      Plot.frame({stroke: "#000", strokeWidth: 2.2}),
      Plot.axisX({anchor: "bottom", ticks: fieldMajor, tickSize: 0, tickPadding: 11, tickFormat: minusFmt, fontSize: 27.5, label: null}),
      Plot.axisX({anchor: "top", ticks: fluxTicks.map(d => d * mTperFlux), tickSize: 0, tickPadding: 11,
        tickFormat: d => minusFmt(Math.round(d / mTperFlux)), fontSize: 27.5, label: null}),
      yTickText(dvdiTicks)
    ]
  });
  place(svg, left, 826);
}
tracePlot(cRed, cBlue, [-128.8, 129.9], 0, 600, 101, 27, true);
tracePlot(dRed, dBlue, [-129.3, 129.6], 620, 576, 102, 1, false);

// ---------- text labels ----------
const bPerp = 'B<span class="s">⊥</span> (mT)';
const phi = 'ϕ/ϕ<span class="s">o</span>';
label("dV/dI (V/A)", 327, 22); label("dV/dI (V/A)", 952, 20);
label("(a)", 24, 129); label("(b)", 652, 129); label("(c)", 27, 825); label("(d)", 657, 825);
label(bPerp, 336, 734); label(bPerp, 961, 734); label(bPerp, 337, 1332); label(bPerp, 959, 1332);
label(phi, 337, 805); label(phi, 958, 805);
label("I (μA)", 26, 399, -90); label("I (μA)", 650, 399, -90);
label("dV/dI (V/A)", 30, 1063, -90); label("dV/dI (V/A)", 650, 1063, -90);
</script></body></html>
